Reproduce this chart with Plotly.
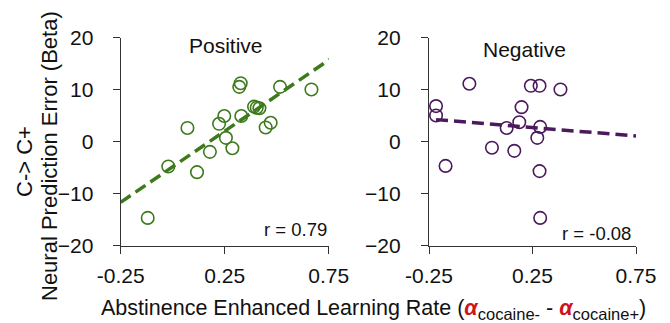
import plotly.graph_objects as go

# ---- data ----
pos_x = [-0.12, -0.021, 0.071, 0.117, 0.179, 0.223, 0.248, 0.256, 0.287, 0.320, 0.327,
         0.330, 0.391, 0.404, 0.417, 0.447, 0.471, 0.516, 0.667]
pos_y = [-14.6, -4.7, 2.7, -5.8, -1.9, 3.5, 5.0, 0.8, -1.2, 10.6, 11.3,
         5.0, 6.8, 6.6, 6.5, 2.8, 3.7, 10.6, 10.1]
pos_fit_x = [-0.25, 0.755]
pos_fit_y = [-11.6, 15.9]

neg_x = [-0.216, -0.216, -0.170, -0.055, 0.054, 0.125, 0.162, 0.186, 0.197, 0.242,
         0.284, 0.273, 0.287, 0.284, 0.287, 0.385]
neg_y = [6.9, 5.1, -4.6, 11.2, -1.1, 2.7, -1.7, 3.8, 6.7, 10.8,
         10.8, 0.8, 2.9, -5.6, -14.6, 10.1]
neg_fit_x = [-0.216, 0.75]
neg_fit_y = [4.3, 1.15]

x_ticks = [-0.25, 0.25, 0.75]
x_ticktext = ["-0.25", "0.25", "0.75"]
y_ticks = [-20, -10, 0, 10, 20]

GREEN = "#3c7a1c"
PURPLE = "#4b1a5c"
FONT = "Liberation Sans, Arial, sans-serif"
W, H = 670, 323

fig = go.Figure()
fig.add_trace(go.Scatter(x=pos_x, y=pos_y, mode="markers", xaxis="x", yaxis="y",
                         marker=dict(symbol="circle-open", size=12.5, color=GREEN,
                                     line=dict(width=1.6, color=GREEN)),
                         showlegend=False, cliponaxis=False))
fig.add_trace(go.Scatter(x=pos_fit_x, y=pos_fit_y, mode="lines", xaxis="x", yaxis="y",
                         line=dict(color=GREEN, width=3.5, dash="12px,6px"), showlegend=False,
                         cliponaxis=False))
fig.add_trace(go.Scatter(x=neg_x, y=neg_y, mode="markers", xaxis="x2", yaxis="y2",
                         marker=dict(symbol="circle-open", size=12.5, color=PURPLE,
                                     line=dict(width=1.6, color=PURPLE)),
                         showlegend=False, cliponaxis=False))
fig.add_trace(go.Scatter(x=neg_fit_x, y=neg_fit_y, mode="lines", xaxis="x2", yaxis="y2",
                         line=dict(color=PURPLE, width=3.5, dash="12px,6px"), showlegend=False))

ax_common = dict(showgrid=False, zeroline=False, showline=True, linecolor="#333",
                 linewidth=1.2, ticks="outside", ticklen=7, tickcolor="#333", tickwidth=1.2,
                 automargin=False,
                 tickfont=dict(size=21, color="#111", family=FONT))

fig.update_layout(
    template="none",
    width=W, height=H,
    margin=dict(l=0, r=0, t=0, b=0, pad=0, autoexpand=False),
    paper_bgcolor="white", plot_bgcolor="white",
    font=dict(family=FONT, color="#111"),
    xaxis=dict(domain=[0.1801, 0.4906], range=[-0.25, 0.75], tickvals=x_ticks,
               ticktext=x_ticktext, anchor="y", ticklabelstandoff=4, **ax_common),
    yaxis=dict(domain=[0.2384, 0.8824], range=[-20, 20], tickvals=y_ticks,
               anchor="x", ticklabelstandoff=15, **ax_common),
    xaxis2=dict(domain=[0.6403, 0.9493], range=[-0.25, 0.75], tickvals=x_ticks,
                ticktext=x_ticktext, anchor="y2", ticklabelstandoff=4, **ax_common),
    yaxis2=dict(domain=[0.2384, 0.8824], range=[-20, 20], tickvals=y_ticks,
                anchor="x2", ticklabelstandoff=16, **ax_common),
)

def px(xp, yp):
    return xp / W, 1 - yp / H

ann = []
ann.append(dict(text="Positive", x=0.2585, y=18.6, xref="x", yref="y", showarrow=False,
                font=dict(size=21), xanchor="center", yanchor="middle"))
ann.append(dict(text="Negative", x=0.21, y=17.8, xref="x2", yref="y2", showarrow=False,
                font=dict(size=21), xanchor="center", yanchor="middle"))
ann.append(dict(text="r = 0.79", x=0.75, y=-16.9, xref="x", yref="y", showarrow=False,
                font=dict(size=18.5), xanchor="right", yanchor="middle"))
ann.append(dict(text="r = -0.08", x=0.735, y=-17.6, xref="x2", yref="y2", showarrow=False,
                font=dict(size=18.5), xanchor="right", yanchor="middle"))
x0, y0 = px(24, 162)
ann.append(dict(text="C-> C+", x=x0, y=y0, xref="paper", yref="paper",
                xanchor="center", yanchor="middle",
                showarrow=False, textangle=-90, font=dict(size=22)))
x0, y0 = px(49, 156)
ann.append(dict(text="Neural Prediction Error (Beta)", x=x0, y=y0, xref="paper", yref="paper",
                xanchor="center", yanchor="middle",
                showarrow=False, textangle=-90, font=dict(size=22)))
x0, y0 = px(373, 309)
ann.append(dict(
    text=("Abstinence Enhanced Learning Rate ("
          "<span style='color:#d0121b'><b><i>α</i></b></span>"
          "<sub><span style='font-size:16.5px'>cocaine-</span></sub> - "
          "<span style='color:#d0121b'><b><i>α</i></b></span>"
          "<sub><span style='font-size:16.5px'>cocaine+</span></sub>)"),
    x=x0, y=y0, xref="paper", yref="paper", xanchor="center", yanchor="middle",
    showarrow=False, font=dict(size=21.5)))
fig.update_layout(annotations=ann)

fig.write_html("out.html")
